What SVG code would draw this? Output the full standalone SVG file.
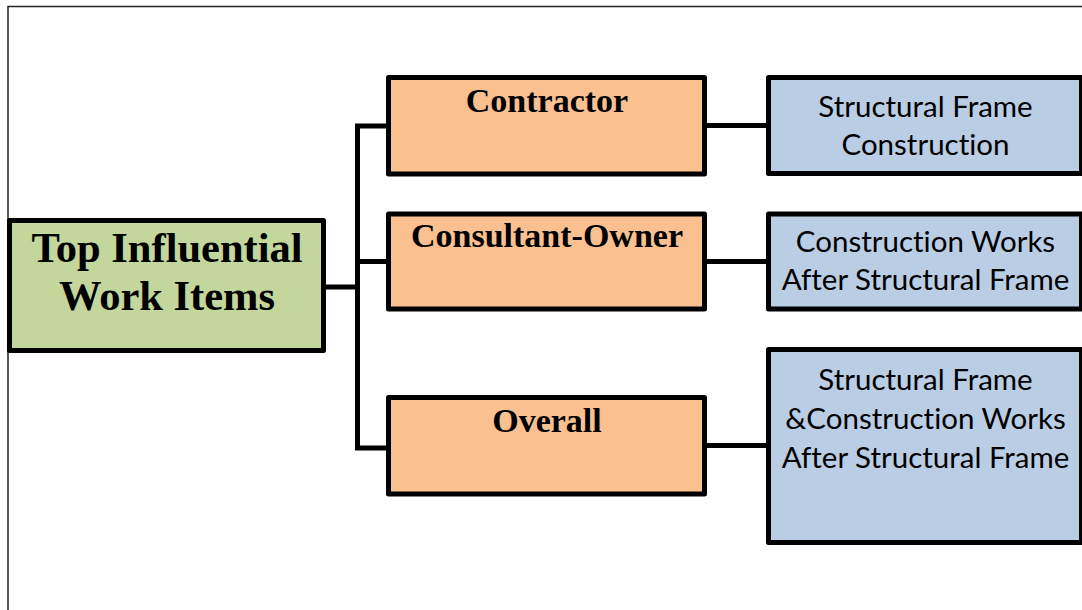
<svg xmlns="http://www.w3.org/2000/svg" width="1082" height="610" viewBox="0 0 1082 610">
  <style>
    .box { stroke: #000; stroke-width: 5; stroke-linejoin: round; }
    .root { fill: #C3D69B; }
    .group { fill: #FAC090; }
    .item { fill: #B9CDE5; }
    .link { fill: none; stroke: #000; stroke-width: 5; stroke-linejoin: miter; }
    .bold { font-family: "Liberation Serif", "Times New Roman", serif; font-weight: bold; text-anchor: middle; fill: #000; }
    .plain { font-family: Lato, "Liberation Sans", sans-serif; font-size: 29.5px; text-anchor: middle; fill: #000; font-variant-ligatures: none; }
  </style>
  <rect x="0" y="0" width="1082" height="610" fill="#fff"/>
  <!-- page frame -->
  <path d="M8 620 V6.5 H1090" fill="none" stroke="#222" stroke-width="1.5"/>

  <g id="connectors">
    <path class="link" d="M325 287 H358" stroke-width="8"/>
    <path class="link" d="M388 126 H357.5 V448 H388"/>
    <path class="link" d="M357.5 261.5 H388"/>
    <path class="link" d="M705 125.5 H768"/>
    <path class="link" d="M705 261.5 H768"/>
    <path class="link" d="M705 445.5 H768"/>
  </g>

  <g id="root">
    <rect class="box root" x="9.5" y="220.5" width="314" height="130"/>
    <text class="bold" x="167" y="261.7" font-size="42.5">Top Influential</text>
    <text class="bold" x="167" y="310" font-size="42.5">Work Items</text>
  </g>

  <g id="contractor">
    <rect class="box group" x="388.5" y="77.5" width="316" height="96.5"/>
    <text class="bold" x="547" y="111.7" font-size="34">Contractor</text>
  </g>
  <g id="consultant-owner">
    <rect class="box group" x="388.5" y="214" width="316" height="95"/>
    <text class="bold" x="547" y="246.7" font-size="34">Consultant-Owner</text>
  </g>
  <g id="overall">
    <rect class="box group" x="388.5" y="397.5" width="316" height="96.5"/>
    <text class="bold" x="547" y="431.7" font-size="34">Overall</text>
  </g>

  <g id="item-contractor">
    <rect class="box item" x="768.5" y="77.5" width="313" height="96"/>
    <text class="plain" x="925.5" y="116.7">Structural Frame</text>
    <text class="plain" x="925.5" y="155">Construction</text>
  </g>
  <g id="item-consultant-owner">
    <rect class="box item" x="768.5" y="214" width="313" height="95"/>
    <text class="plain" x="925.5" y="251.7">Construction Works</text>
    <text class="plain" x="925.5" y="290">After Structural Frame</text>
  </g>
  <g id="item-overall">
    <rect class="box item" x="768.5" y="349.5" width="313" height="193"/>
    <text class="plain" x="925.5" y="390">Structural Frame</text>
    <text class="plain" x="925.5" y="429.3">&amp;Construction Works</text>
    <text class="plain" x="925.5" y="468.3">After Structural Frame</text>
  </g>
</svg>
